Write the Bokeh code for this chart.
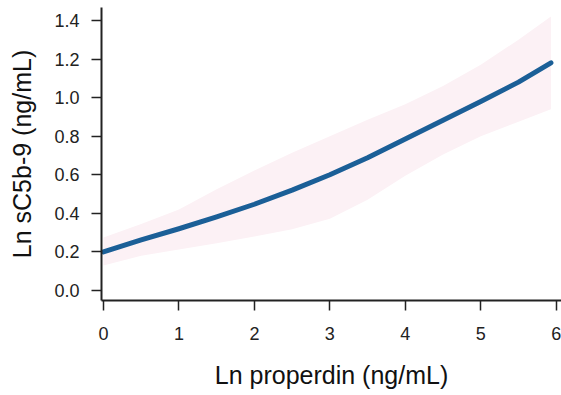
from bokeh.plotting import figure
from bokeh.models import ColumnDataSource, Range1d, FixedTicker
from bokeh.embed import file_html
from bokeh.resources import INLINE

# Fitted curve of Ln sC5b-9 against Ln properdin, with its confidence band
ln_properdin = [0.0, 0.5, 1.0, 1.5, 2.0, 2.5, 3.0, 3.5, 4.0, 4.5, 5.0, 5.5, 5.93]
fit = [0.20, 0.262, 0.32, 0.382, 0.447, 0.52, 0.60, 0.688, 0.785, 0.882, 0.98, 1.08, 1.18]
upper = [0.275, 0.345, 0.42, 0.525, 0.622, 0.714, 0.80, 0.885, 0.965, 1.06, 1.17, 1.30, 1.42]
lower = [0.13, 0.18, 0.212, 0.245, 0.28, 0.318, 0.372, 0.47, 0.595, 0.705, 0.80, 0.875, 0.94]

x_ticks = [0, 1, 2, 3, 4, 5, 6]
y_ticks = [0.0, 0.2, 0.4, 0.6, 0.8, 1.0, 1.2, 1.4]

src = ColumnDataSource(dict(x=ln_properdin, fit=fit, upper=upper, lower=lower))

p = figure(width=561, height=395, output_backend="svg", toolbar_location=None,
           x_range=Range1d(-0.026, 6.07), y_range=Range1d(-0.052, 1.467),
           min_border_left=101, min_border_right=0, min_border_top=7,
           min_border_bottom=95)
p.outline_line_color = None
p.xgrid.visible = False
p.ygrid.visible = False
p.background_fill_color = "white"
p.border_fill_color = "white"

p.varea(x="x", y1="lower", y2="upper", source=src, fill_color="#fcf1f5", fill_alpha=1.0)
p.line(x="x", y="fit", source=src, line_color="#1b5f97", line_width=5,
       line_cap="round", line_join="round")

font = "Liberation Sans"
for ax in (p.xaxis[0], p.yaxis[0]):
    ax.axis_line_color = "#222222"
    ax.axis_line_width = 2
    ax.major_tick_line_color = "#222222"
    ax.major_tick_line_width = 1.5
    ax.major_tick_out = 10
    ax.major_tick_in = 0
    ax.minor_tick_line_color = None
    ax.major_label_text_font = font
    ax.major_label_text_font_size = "18px"
    ax.major_label_text_color = "#222222"
    ax.axis_label_text_font = font
    ax.axis_label_text_font_size = "25px"
    ax.axis_label_text_font_style = "normal"
    ax.axis_label_text_color = "#111111"

p.xaxis.ticker = FixedTicker(ticks=x_ticks)
p.yaxis.ticker = FixedTicker(ticks=y_ticks)
p.yaxis.major_label_overrides = {v: f"{v:.1f}" for v in y_ticks}
p.xaxis.major_label_standoff = 16
p.yaxis.major_label_standoff = 12
p.xaxis.axis_label = "Ln properdin (ng/mL)"
p.yaxis.axis_label = "Ln sC5b-9 (ng/mL)"
p.xaxis.axis_label_standoff = 18
p.yaxis.axis_label_standoff = 15

open("out.html", "w").write(file_html(p, INLINE))
